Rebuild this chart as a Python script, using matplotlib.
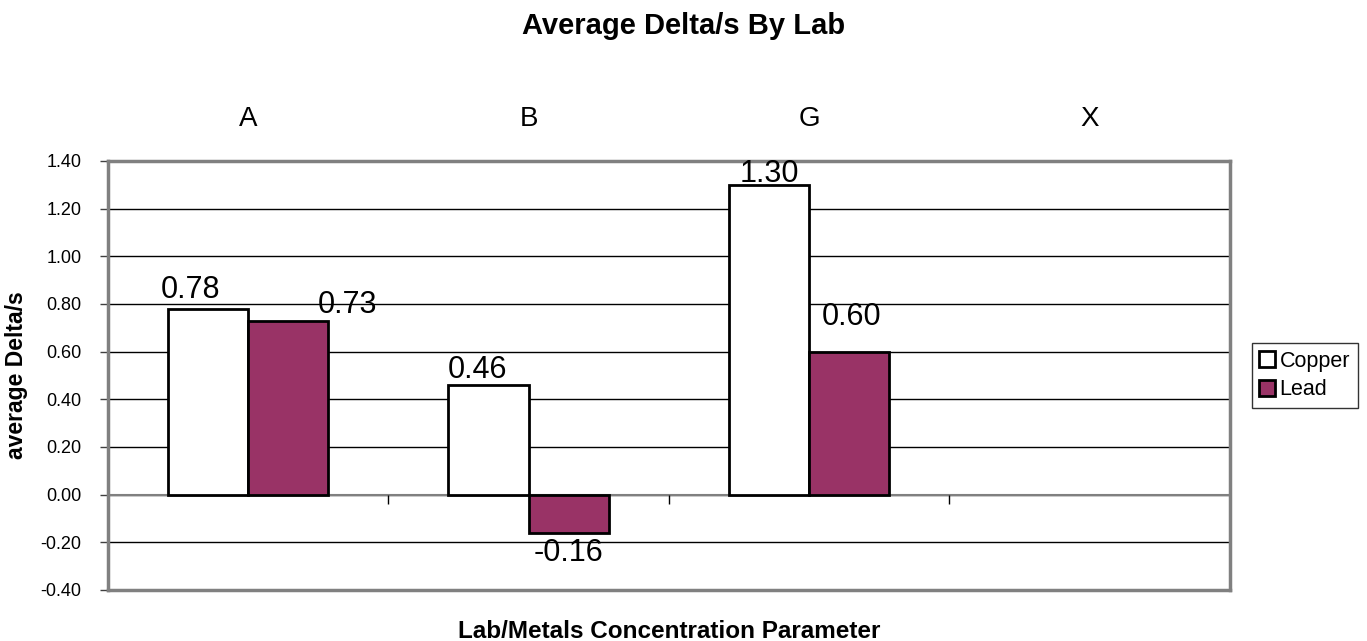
import numpy as np
import matplotlib.pyplot as plt
import matplotlib

matplotlib.rcParams['font.family'] = ['Liberation Sans', 'DejaVu Sans']

labs = ['A', 'B', 'G', 'X']
copper = [0.78, 0.46, 1.30, np.nan]
lead = [0.73, -0.16, 0.60, np.nan]
yticks = np.arange(-0.4, 1.41, 0.2)

# label nudges in pixels (dx, dy), copper then lead for each lab
copper_off = [(-18, 4), (-11, 0), (0, -4), (0, 0)]
lead_off = [(59, 1), (0, -5), (2, 20), (0, 0)]

fig = plt.figure(figsize=(13.67, 6.41), dpi=100)
ax = fig.add_axes([0.079, 0.0796, 0.8205, 0.6694])

index = np.arange(len(labs))
width = 1 / 3.5  # gap width 150%
ax.bar(index - width / 2, copper, width, color='white', edgecolor='black', linewidth=2, label='Copper', zorder=3)
ax.bar(index + width / 2, lead, width, color='#993366', edgecolor='black', linewidth=2, label='Lead', zorder=3)

ax.set_xlim(-0.5, len(labs) - 0.5)
ax.set_ylim(-0.4, 1.4)
ax.set_yticks(yticks)
ax.set_yticklabels(['%.2f' % v for v in yticks], fontsize=13)
ax.yaxis.grid(True, color='black', linewidth=1, zorder=0)
ax.tick_params(axis='y', length=6, width=1, color='#404040', pad=13)

# lab names sit above the plot area
ax.set_xticks(index)
ax.set_xticklabels(labs, fontsize=20)
ax.xaxis.set_ticks_position('top')
ax.tick_params(axis='x', length=0, pad=20.5)

# category axis crosses at zero, ticks between groups
ax.axhline(0, color='#808080', linewidth=1.5, zorder=2)
ax.vlines(index[1:] - 0.5, -0.038, 0, color='black', linewidth=1, zorder=2)

for s in ax.spines.values():
    s.set_color('#808080')
    s.set_linewidth(2.5)

# value labels
for i in range(len(labs)):
    for vals, w, off in [(copper, -width / 2, copper_off), (lead, width / 2, lead_off)]:
        v = vals[i]
        if np.isnan(v):
            continue
        ax.annotate('%.2f' % v, (i + w, v), xytext=off[i], textcoords='offset pixels',
                    ha='center', va='top' if v < 0 else 'bottom', fontsize=22, zorder=4)

ax.set_ylabel('average Delta/s', fontsize=16.5, fontweight='bold')
ax.yaxis.set_label_coords(-0.0713, 0.5)
ax.set_xlabel('Lab/Metals Concentration Parameter', fontsize=17.5, fontweight='bold', va='baseline')
ax.xaxis.set_label_coords(0.5, -0.113)
fig.text(0.5, 0.947, 'Average Delta/s By Lab', ha='center', va='baseline', fontsize=21, fontweight='bold')

leg = ax.legend(loc='center left', bbox_to_anchor=(1.0196, 0.5), fontsize=15.5, frameon=True,
                fancybox=False, edgecolor='black', handlelength=0.75, handleheight=0.75,
                handletextpad=0.2, borderpad=0.35, labelspacing=0.35, borderaxespad=0)
leg.get_frame().set_linewidth(1)

plt.savefig('out.png', dpi=100)
